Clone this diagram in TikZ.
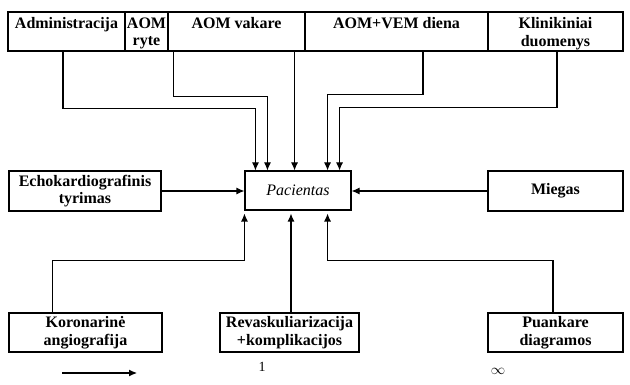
\documentclass[tikz,border=0pt]{standalone}
\usepackage{fontspec}
\setmainfont{Liberation Serif}
\usetikzlibrary{arrows.meta, calc}

\begin{document}
\begin{tikzpicture}[x=1pt, y=-1pt, line width=1.1pt,
        box/.style={draw, inner sep=0pt, align=center, font=\bfseries\fontsize{16}{17.5}\selectfont},
        lbl/.style={anchor=north, align=center, inner sep=0pt, yshift=-5.5pt, font=\bfseries\fontsize{16}{17.5}\selectfont},
        arr/.style={-{Latex[length=8pt, width=7pt]}}]
    \useasboundingbox (0,0) rectangle (630,385);
    % top row
    \foreach \nm/\x/\w/\txt in {adm/66.5/117/Administracija, ryte/146.5/43/{AOM\\ryte},
        vak/236.5/137/AOM vakare, dien/396.5/183/AOM+VEM diena, klin/555.5/135/{Klinikiniai\\duomenys}}
    {
        \node[box, minimum width=\w pt, minimum height=39pt, label={[lbl]north:\txt}] (\nm) at (\x,31.5) {};
    }
    % middle row
    \node[box, minimum width=152pt, minimum height=40pt] (echo) at (85,191) {Echokardiografinis\\tyrimas};
    \node[draw, minimum width=106pt, minimum height=39pt, font=\itshape\fontsize{16}{17.5}\selectfont] (pac) at (298,190.5) {Pacientas};
    \node[box, minimum width=135pt, minimum height=40pt] (mieg) at (555.5,191) {Miegas};
    % bottom row
    \node[box, minimum width=153pt, minimum height=39pt] (kor) at (85.5,332.5) {Koronarinė\\angiografija};
    \node[box, minimum width=139pt, minimum height=39pt] (rev) at (289.5,332.5) {Revaskuliarizacija\\+komplikacijos};
    \node[box, minimum width=135pt, minimum height=39pt] (puan) at (555.5,332.5) {Puankare\\diagramos};

    % arrows from above
    \draw[arr] ([xshift=-3.5pt]adm.south) -- ++(0,57) -| ([xshift=11pt]pac.north west);
    \draw[arr] ([xshift=5pt]ryte.south east) -- ++(0,45) -| ([xshift=23pt]pac.north west);
    \draw[arr] ([xshift=-11pt]vak.south east) coordinate (v) -- (v |- pac.north);
    \draw[arr] ([xshift=26.5pt]dien.south) -- ++(0,43) -| ([xshift=-24pt]pac.north east);
    \draw[arr] ([xshift=1.5pt]klin.south) -- ++(0,56) -| ([xshift=-12pt]pac.north east);
    % arrows from the sides
    \draw[arr] (echo.east) -- (echo.east -| pac.west);
    \draw[arr] (mieg.west) -- (mieg.west -| pac.east);
    % arrows from below
    \draw[arr, shorten >=3pt] ([xshift=-33pt]kor.north) -- ++(0,-52) -| (pac.south west);
    \draw[arr, shorten >=3pt] ([xshift=1.5pt]rev.north) coordinate (r) -- (r |- pac.south);
    \draw[arr, shorten >=3pt] ([xshift=-2.5pt]puan.north) -- ++(0,-52) -| ([xshift=-24pt]pac.south east);

    % legend
    \coordinate (lgA) at (62,373);
    \coordinate (lgB) at (137,373);
    \draw[arr] (lgA) -- (lgB);
    \node[font=\fontsize{14}{15}\selectfont] (one) at (262,367) {1};
    \node[font=\fontsize{14}{15}\selectfont] (inf) at (498,371) {$\infty$};
\end{tikzpicture}
\end{document}
